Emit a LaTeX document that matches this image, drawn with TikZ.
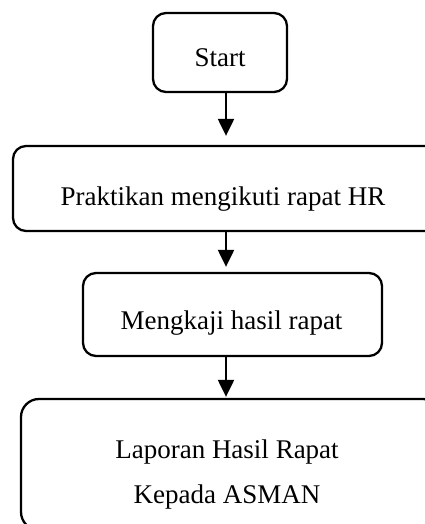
\documentclass[tikz,border=0pt]{standalone}
\usepackage{fontspec}
\setmainfont{Liberation Serif}
\usetikzlibrary{arrows.meta}
\begin{document}
\begin{tikzpicture}[x=1pt,y=-1pt,
  box/.style={draw=black,line width=2.3pt,rectangle,rounded corners=13pt,inner sep=0pt},
  txt/.style={font=\fontsize{27}{45}\selectfont,inner sep=0pt,anchor=base,align=center},
  arr/.style={draw=black,line width=2.2pt,-{Triangle[length=17pt,width=16pt]}}]
\useasboundingbox (0,0) rectangle (425,524);
\clip (0,0) rectangle (425,524);
\coordinate (ax) at (226,0);
\node[box,minimum width=134pt,minimum height=79pt] (b1) at (220,52.5) {};
\node[box,minimum width=437pt,minimum height=85pt] (b2) at (231.5,188.5) {};
\node[box,minimum width=299pt,minimum height=83pt] (b3) at (232.5,314.5) {};
\node[box,rounded corners=18pt,minimum width=420pt,minimum height=131pt] (b4) at (231,464.5) {};
\node[txt] (t1) at (220,67) {Start};
\node[txt] (t2) at (223,205) {Praktikan mengikuti rapat HR};
\node[txt] (t3) at (231.5,329) {Mengkaji hasil rapat};
\node[txt] (t4a) at (227,458) {Laporan Hasil Rapat};
\node[txt] (t4b) at (227,503) {Kepada ASMAN};
\draw[arr,shorten >=9pt] (b1.south -| ax) -- (b2.north -| ax);
\draw[arr,shorten >=5pt] (b2.south -| ax) -- (b3.north -| ax);
\draw[arr,shorten >=1pt] (b3.south -| ax) -- (b4.north -| ax);
\end{tikzpicture}
\end{document}
